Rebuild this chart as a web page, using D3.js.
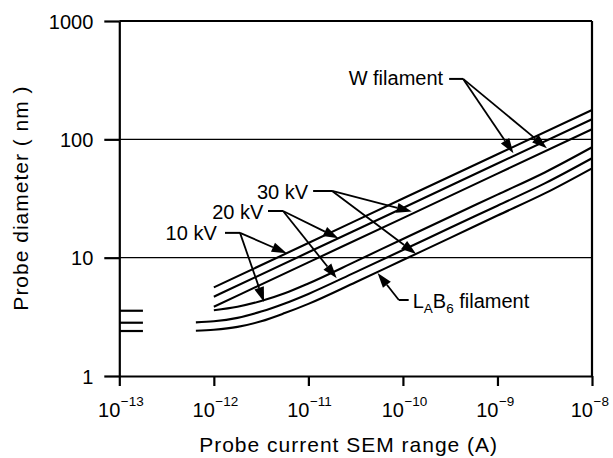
<!DOCTYPE html>
<html>
<head>
<meta charset="utf-8">
<script src="https://cdn.jsdelivr.net/npm/d3@7"></script>
<style>
body { margin: 0; background: #fff; }
svg { display: block; font-family: "Liberation Sans", Arial, Helvetica, sans-serif; }
</style>
</head>
<body>
<svg></svg>
<script>
var screen = {width: 613, height: 458};
var margins = {top: 21, right: 21, bottom: 82, left: 119.3};

// x values are log10 of probe current (A), y values probe diameter (nm)
var xTickExp = [-13, -12, -11, -10, -9, -8];
var yTicks = [1, 10, 100, 1000];

// W filament, straight in log-log
var wExp = [-12, -11, -10, -9, -8];
var w10kV = [5.61, 13.3, 31.6, 74.8, 177];
var w20kV = [4.68, 11.1, 26.3, 62.4, 148];
var w30kV = [3.85, 9.12, 21.6, 51.3, 121.6];

// LaB6 filament, flattening out at small currents
var lab10Exp = [-12, -11.75, -11.5, -11.25, -11, -10.5, -10, -9.5, -9, -8.5, -8];
var lab10kV = [3.6, 3.85, 4.3, 5.0, 6.05, 9.3, 14.4, 22.2, 34.1, 52.5, 85.7];
var labExp = [-12.19, -12, -11.75, -11.5, -11.25, -11, -10.5, -10, -9.5, -9, -8.5, -8];
var lab20kV = [2.84, 2.9, 3.1, 3.5, 4.1, 4.94, 7.55, 11.6, 17.9, 27.5, 42.4, 69.2];
var lab30kV = [2.41, 2.46, 2.6, 2.9, 3.4, 4.07, 6.2, 9.55, 14.7, 22.7, 34.9, 56.9];

// limiting probe size of the LaB6 curves, marked by the y axis
var lab6Limit = [3.56, 2.82, 2.40];

var curves = [
    {exp: wExp, d: w10kV}, {exp: wExp, d: w20kV}, {exp: wExp, d: w30kV},
    {exp: lab10Exp, d: lab10kV}, {exp: labExp, d: lab20kV}, {exp: labExp, d: lab30kV}
];

// annotation layout, in data units (exp, nm)
var notes = [
    {text: "W filament", anchor: "end", at: [-9.575, 288],
     leader: [[-9.511, 324], [-9.363, 324]], tips: [[-8.831, 76.3], [-8.477, 84.1]]},
    {text: "30 kV", anchor: "end", at: [-11.003, 31.6],
     leader: [[-10.950, 36.6], [-10.749, 36.6]], tips: [[-9.906, 24.5], [-9.860, 10.75]]},
    {text: "20 kV", anchor: "end", at: [-11.476, 21.4],
     leader: [[-11.427, 24.8], [-11.268, 24.8]], tips: [[-10.683, 14.6], [-10.70, 6.7]]},
    {text: "10 kV", anchor: "end", at: [-11.969, 14.1],
     leader: [[-11.882, 16.2], [-11.723, 16.2]], tips: [[-11.229, 10.9], [-11.469, 4.22]]},
    {text: "LAB6", anchor: "start", at: [-9.897, 3.76],
     leader: [[-9.939, 4.39], [-10.043, 4.39]], tips: [[-10.268, 7.43]]}
];

var pow10 = function(e) { return Math.pow(10, e); };

var setup = function()
{
    var width = screen.width - margins.left - margins.right;
    var height = screen.height - margins.top - margins.bottom;

    var svg = d3.select("svg")
        .attr("width", screen.width)
        .attr("height", screen.height);

    var graph = svg.append("g")
        .attr("id", "graph")
        .attr("transform", "translate(" + margins.left + "," + margins.top + ")");

    var xScale = d3.scaleLog()
        .domain([1e-13, 1e-8])
        .range([0, width]);

    var yScale = d3.scaleLog()
        .domain([1, 1000])
        .range([height, 0]);

    // gridlines at 10 and 100
    graph.selectAll(".grid")
        .data([10, 100])
        .enter()
        .append("line")
        .attr("class", "grid")
        .attr("x1", 0)
        .attr("x2", width)
        .attr("y1", function(d) { return yScale(d); })
        .attr("y2", function(d) { return yScale(d); })
        .attr("stroke", "#000")
        .attr("stroke-width", 1.3);

    // frame top and right
    graph.append("line")
        .attr("x1", 0).attr("x2", width)
        .attr("y1", yScale(1000)).attr("y2", yScale(1000))
        .attr("stroke", "#000").attr("stroke-width", 2.2);
    graph.append("line")
        .attr("x1", width).attr("x2", width)
        .attr("y1", yScale(1000)).attr("y2", height)
        .attr("stroke", "#000").attr("stroke-width", 2.2);

    var yAxis = d3.axisLeft(yScale)
        .tickValues(yTicks)
        .tickSize(15)
        .tickSizeOuter(0)
        .tickPadding(11)
        .tickFormat(d3.format("d"));

    var yg = graph.append("g")
        .attr("class", "axis")
        .call(yAxis);

    var xAxis = d3.axisBottom(xScale)
        .tickValues(xTickExp.map(pow10))
        .tickSize(10)
        .tickSizeOuter(0)
        .tickFormat("");

    var xg = graph.append("g")
        .attr("class", "axis")
        .attr("transform", "translate(0," + height + ")")
        .call(xAxis);

    svg.selectAll(".axis path, .axis line")
        .attr("stroke", "#000")
        .attr("stroke-width", 2.2);
    svg.selectAll(".axis text")
        .attr("fill", "#000")
        .style("font-size", "20px")
        .attr("dy", "0.35em");

    // 10^n labels
    xg.selectAll(".tick text").remove();
    xg.selectAll(".tick")
        .each(function(d, i) {
            var t = d3.select(this);
            t.append("text")
                .attr("x", 0.5)
                .attr("y", 41)
                .attr("text-anchor", "end")
                .attr("fill", "#000")
                .style("font-size", "20px")
                .text("10");
            t.append("text")
                .attr("x", 1)
                .attr("y", 30)
                .attr("text-anchor", "start")
                .attr("fill", "#000")
                .style("font-size", "13.5px")
                .text("\u2212" + Math.abs(xTickExp[i]));
        });

    // axis titles
    svg.append("text")
        .attr("x", margins.left + width / 2 - 7)
        .attr("y", 452)
        .attr("text-anchor", "middle")
        .style("font-size", "21px")
        .style("letter-spacing", "1px")
        .text("Probe current SEM range (A)");

    svg.append("text")
        .attr("transform", "translate(28," + 198 + ") rotate(-90)")
        .attr("text-anchor", "middle")
        .style("font-size", "21px")
        .style("letter-spacing", "1px")
        .text("Probe diameter ( nm )");

    // LaB6 limit marks by the axis
    graph.selectAll(".limit")
        .data(lab6Limit)
        .enter()
        .append("line")
        .attr("class", "limit")
        .attr("x1", 0)
        .attr("x2", xScale(pow10(-12.75)))
        .attr("y1", function(d) { return yScale(d); })
        .attr("y2", function(d) { return yScale(d); })
        .attr("stroke", "#000")
        .attr("stroke-width", 2.2);

    var lineGenerator = d3.line()
        .x(function(p) { return xScale(pow10(p[0])); })
        .y(function(p) { return yScale(p[1]); })
        .curve(d3.curveMonotoneX);

    graph.selectAll(".curve")
        .data(curves)
        .enter()
        .append("path")
        .attr("class", "curve")
        .attr("fill", "none")
        .attr("stroke", "#000")
        .attr("stroke-width", 2.1)
        .attr("d", function(c) {
            return lineGenerator(c.exp.map(function(e, i) { return [e, c.d[i]]; }));
        });

    drawNotes(graph, xScale, yScale);
}

var drawNotes = function(graph, xScale, yScale)
{
    var px = function(p) { return [xScale(pow10(p[0])), yScale(p[1])]; };

    notes.forEach(function(n) {
        var a = px(n.at);
        var txt = graph.append("text")
            .attr("x", a[0])
            .attr("y", a[1])
            .attr("text-anchor", n.anchor)
            .style("font-size", "20px");
        if (n.text == "LAB6") {
            txt.append("tspan").text("L");
            txt.append("tspan").attr("dy", 5).style("font-size", "13.5px").text("A");
            txt.append("tspan").attr("dy", -5).text("B");
            txt.append("tspan").attr("dy", 5).style("font-size", "13.5px").text("6");
            txt.append("tspan").attr("dy", -5).text(" filament");
        } else {
            txt.text(n.text);
        }

        var l0 = px(n.leader[0]);
        var l1 = px(n.leader[1]);
        graph.append("line")
            .attr("x1", l0[0]).attr("y1", l0[1])
            .attr("x2", l1[0]).attr("y2", l1[1])
            .attr("stroke", "#000").attr("stroke-width", 2);

        n.tips.forEach(function(tp) {
            var t = px(tp);
            var dx = t[0] - l1[0], dy = t[1] - l1[1];
            var len = Math.sqrt(dx * dx + dy * dy);
            var ux = dx / len, uy = dy / len;
            var bx = t[0] - ux * 15, by = t[1] - uy * 15;
            graph.append("line")
                .attr("x1", l1[0]).attr("y1", l1[1])
                .attr("x2", bx).attr("y2", by)
                .attr("stroke", "#000").attr("stroke-width", 1.8);
            graph.append("polygon")
                .attr("points", [
                    [t[0], t[1]],
                    [bx - uy * 5, by + ux * 5],
                    [bx + uy * 5, by - ux * 5]
                ].map(function(p) { return p.join(","); }).join(" "))
                .attr("fill", "#000");
        });
    });
}

setup();
</script>
</body>
</html>
